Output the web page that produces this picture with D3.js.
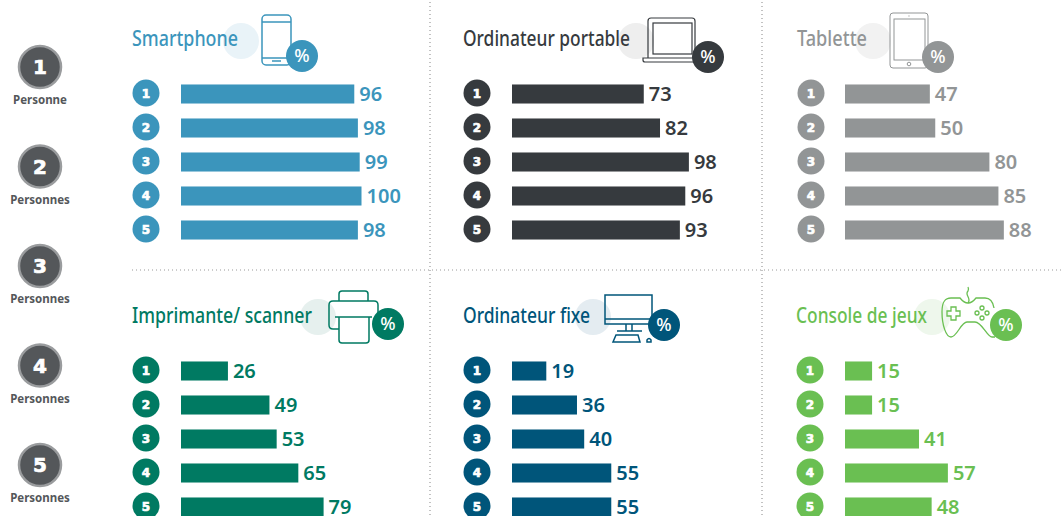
<!DOCTYPE html>
<html>
<head>
<meta charset="utf-8">
<style>
  html, body { margin: 0; padding: 0; background: #fff; overflow: hidden; }
  svg { display: block; }
  .title { font-family: "Noto Sans", sans-serif; font-weight: 500; font-size: 22px; }
  .val { font-family: "Noto Sans", sans-serif; font-weight: 600; font-size: 20px; }
  .rank { font-family: "DejaVu Sans", sans-serif; font-weight: 700; fill: #fff; stroke: #fff; stroke-width: 0.7; text-anchor: middle; }
  .pct { font-family: "Noto Sans", sans-serif; font-weight: 500; font-size: 18px; fill: #fff; text-anchor: middle; }
  .who { font-family: "Noto Sans", sans-serif; font-weight: 700; font-size: 11.5px; fill: #54575a; text-anchor: middle; }
</style>
<script src="https://cdn.jsdelivr.net/npm/d3@7"></script>
</head>
<body>
<div id="chart"></div>
<script>
// household size, shared by every panel
const ranks = [1, 2, 3, 4, 5];
const legendLabels = ["Personne", "Personnes", "Personnes", "Personnes", "Personnes"];

// values in %
const smartphone = [96, 98, 99, 100, 98];
const portable = [73, 82, 98, 96, 93];
const tablette = [47, 50, 80, 85, 88];
const imprimante = [26, 49, 53, 65, 79];
const fixe = [19, 36, 40, 55, 55];
const consoleJeux = [15, 15, 41, 57, 48];

const titles = ["Smartphone", "Ordinateur portable", "Tablette", "Imprimante/ scanner", "Ordinateur fixe", "Console de jeux"];
const series = [smartphone, portable, tablette, imprimante, fixe, consoleJeux];
const colors = ["#3b95bc", "#363a3e", "#929596", "#007a62", "#00557a", "#6abf52"];
const tints = ["#e9f3f8", "#eeeeee", "#f2f2f2", "#e6f0ee", "#e4ecf1", "#eef7ec"];

const svg = d3.select("#chart").append("svg")
  .attr("width", 1062)
  .attr("height", 516);

// panel layout
const titleX = [132, 463, 797, 132, 463, 796];
const titleWidth = [106, 167, 70, 180, 127, 131];
const barX = [181, 512, 845, 181, 512, 845];
const topY = [0, 0, 0, 277, 277, 277];
const tintPos = [[241, 41], [636, 41], [873, 41], [318, 317], [593, 317], [932, 317]];
const badgePos = [[302, 56], [708, 57], [938, 57], [388, 324], [664, 325], [1006, 325]];
const iconStroke = [1.5, 1.2, 1, 1.5, 1.5, 1.3];

const x = d3.scaleLinear().domain([0, 100]).range([0, 180.5]);
const y = d3.scaleBand().domain(ranks).range([77, 247]).paddingInner(0.44).paddingOuter(0.22);

// separators
const dots = svg.append("g")
  .attr("stroke", "#9a9a9a")
  .attr("stroke-width", 1.2)
  .attr("stroke-dasharray", "1 3");
dots.append("line").attr("x1", 430).attr("x2", 430).attr("y1", 2).attr("y2", 516);
dots.append("line").attr("x1", 762).attr("x2", 762).attr("y1", 2).attr("y2", 516);
dots.append("line").attr("x1", 132).attr("x2", 1062).attr("y1", 270).attr("y2", 270);

// left legend
const legendY = d3.scalePoint().domain(ranks).range([67, 465]);
const legend = svg.append("g").selectAll("g").data(ranks).join("g")
  .attr("transform", d => `translate(40,${legendY(d)})`);
legend.append("circle")
  .attr("r", 21)
  .attr("fill", "#54575a")
  .attr("stroke", "#9a9c9e")
  .attr("stroke-width", 2.5);
legend.append("text")
  .attr("class", "rank")
  .attr("y", 7)
  .attr("font-size", 20)
  .text(d => d);
legend.append("text")
  .attr("class", "who")
  .attr("y", 37)
  .text((d, i) => legendLabels[i]);

// icons, drawn in page coordinates
const icons = [
  g => {
    g.append("rect").attr("x", 262).attr("y", 15).attr("width", 29).attr("height", 50).attr("rx", 4);
    g.append("path").attr("d", "M262 22H291M262 58H291M272 61H281");
  },
  g => {
    g.append("path").attr("d", "M648 58V21Q648 18 651 18H692Q695 18 695 21V58");
    g.append("rect").attr("x", 653).attr("y", 23).attr("width", 39).attr("height", 31);
    g.append("path").attr("d", "M643 58H697V62H645Q643 62 643 60Z");
  },
  g => {
    g.append("rect").attr("x", 890).attr("y", 13).attr("width", 38).attr("height", 55).attr("rx", 3);
    g.append("rect").attr("x", 894).attr("y", 19).attr("width", 31).attr("height", 41);
    g.append("circle").attr("cx", 909).attr("cy", 64).attr("r", 1.8);
    g.append("circle").attr("cx", 909).attr("cy", 16).attr("r", 0.2);
  },
  g => {
    g.append("path").attr("d", "M339 301V294Q339 291 342 291H365Q368 291 368 294V301");
    g.append("path").attr("d", "M339 329H333Q329 329 329 325V305Q329 301 333 301H374Q378 301 378 305V322");
    g.append("path").attr("d", "M335 317H372M339 317V340Q339 343 342 343H366Q369 343 369 340V317");
  },
  g => {
    g.append("rect").attr("x", 605).attr("y", 295).attr("width", 47).attr("height", 29);
    g.append("path").attr("d", "M605 319H652M626 324V331M632 324V331M617 331H642");
    g.append("path").attr("d", "M616 335H638L640 342H613Z");
    g.append("path").attr("d", "M647 342V340Q649 337 651 340V342Z");
  },
  g => {
    g.append("path").attr("d", "M968 303C972 298 964 295 968 291Q969 289 968 287");
    g.append("path").attr("d", "M951 298C944 298 942 303 942 312C942 325 946 337 951 337C957 337 961 322 967 322H975C982 322 987 337 992 337H995M951 298H960Q964 303 968 303Q972 303 976 298H985C990 298 993 302 994 308");
    g.append("path").attr("d", "M951 307H956V311H960V316H956V320H951V316H947V311H951Z");
    g.append("circle").attr("cx", 982).attr("cy", 308).attr("r", 2);
    g.append("circle").attr("cx", 982).attr("cy", 318).attr("r", 2);
    g.append("circle").attr("cx", 977).attr("cy", 313).attr("r", 2);
    g.append("circle").attr("cx", 987).attr("cy", 313).attr("r", 2);
  }
];

// one panel per device
titles.forEach((title, p) => {
  const color = colors[p];
  const panel = svg.append("g");

  panel.append("circle")
    .attr("cx", tintPos[p][0])
    .attr("cy", tintPos[p][1])
    .attr("r", 18)
    .attr("fill", tints[p]);

  panel.append("text")
    .attr("class", "title")
    .attr("x", titleX[p])
    .attr("y", topY[p] + 46)
    .attr("textLength", titleWidth[p])
    .attr("lengthAdjust", "spacingAndGlyphs")
    .attr("fill", color)
    .text(title);

  const icon = panel.append("g")
    .attr("fill", "none")
    .attr("stroke", color)
    .attr("stroke-width", iconStroke[p]);
  icons[p](icon);

  panel.append("circle")
    .attr("cx", badgePos[p][0])
    .attr("cy", badgePos[p][1])
    .attr("r", 16)
    .attr("fill", color);
  panel.append("text")
    .attr("class", "pct")
    .attr("x", badgePos[p][0])
    .attr("y", badgePos[p][1] + 6)
    .text("%");

  const rows = panel.append("g")
    .attr("transform", `translate(0,${topY[p]})`)
    .selectAll("g")
    .data(ranks)
    .join("g");

  rows.append("circle")
    .attr("cx", titleX[p] + 14)
    .attr("cy", d => y(d) + y.bandwidth() / 2 - 1)
    .attr("r", 13.5)
    .attr("fill", color);
  rows.append("text")
    .attr("class", "rank")
    .attr("x", titleX[p] + 14)
    .attr("y", d => y(d) + y.bandwidth() / 2 + 3.5)
    .attr("font-size", 12)
    .text(d => d);

  rows.append("rect")
    .attr("x", barX[p])
    .attr("y", d => y(d))
    .attr("width", (d, i) => x(series[p][i]))
    .attr("height", y.bandwidth())
    .attr("fill", color);

  rows.append("text")
    .attr("class", "val")
    .attr("x", (d, i) => barX[p] + x(series[p][i]) + 5)
    .attr("y", d => y(d) + y.bandwidth() / 2 + 7)
    .attr("fill", color)
    .text((d, i) => series[p][i]);
});
</script>
</body>
</html>
